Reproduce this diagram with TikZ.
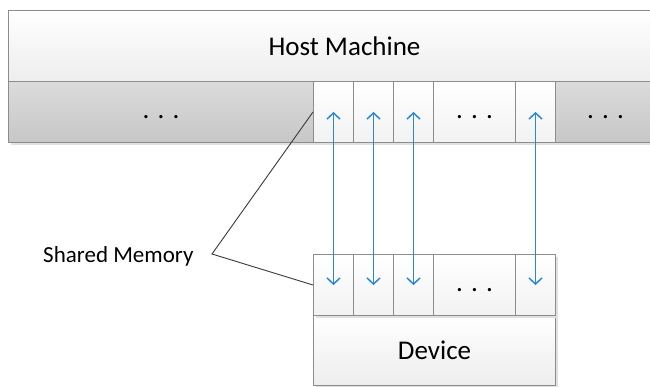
\documentclass[tikz,border=0pt]{standalone}
\usepackage{fontspec}
\setmainfont{Carlito}
\usetikzlibrary{arrows.meta,shadows}
\definecolor{edgegray}{HTML}{8C8C8C}
\definecolor{flowblue}{HTML}{2B86D4}
\definecolor{leadgray}{HTML}{3A3A3A}
\tikzset{
  panel/.style={draw=edgegray, line width=1pt, inner sep=0pt, anchor=north west,
    top color=white, bottom color=black!7, font=\fontsize{27}{30}\selectfont,
    drop shadow={shadow xshift=2pt, shadow yshift=-2pt, fill=black!12, opacity=1}},
  darkcell/.style={panel, top color=black!14, bottom color=black!22, minimum height=61pt},
  lightcell/.style={panel, top color=white, bottom color=black!5, minimum height=61pt, minimum width=40pt},
  link/.style={draw=flowblue, line width=0.9pt,
    {Straight Barb[length=6pt,width=13pt,line width=1.5pt]}-{Straight Barb[length=6pt,width=13pt,line width=1.5pt]}},
  lead/.style={draw=leadgray, line width=0.9pt, line join=miter}
}
\newcommand{\gap}{\vphantom{Hg}. . .}
\begin{document}
\begin{tikzpicture}[x=1pt,y=-1pt]
\clip (0,0) rectangle (650,386);
\fill[white] (0,0) rectangle (650,386);

% host machine with its memory row
\node[panel, minimum width=672pt, minimum height=71pt] (host) at (8,10) {Host Machine};
\node[darkcell, minimum width=305pt] (g1) at (8,81) {\gap};
\node[lightcell] (h1) at (313,81) {};
\node[lightcell] (h2) at (353,81) {};
\node[lightcell] (h3) at (393,81) {};
\node[lightcell, minimum width=82pt] (hd) at (433,81) {\gap};
\node[lightcell] (h4) at (515,81) {};
\node[darkcell, minimum width=100pt] (g2) at (555,81) {\gap};

% device with the mapped cells
\node[panel, minimum width=242pt, minimum height=70pt] (dev) at (313,315) {Device};
\node[lightcell] (d1) at (313,254) {};
\node[lightcell] (d2) at (353,254) {};
\node[lightcell] (d3) at (393,254) {};
\node[lightcell, minimum width=82pt] (dd) at (433,254) {\gap};
\node[lightcell] (d4) at (515,254) {};

% shared memory links
\draw[link] (d1.center) -- (h1.center);
\draw[link] (d2.center) -- (h2.center);
\draw[link] (d3.center) -- (h3.center);
\draw[link] (d4.center) -- (h4.center);

% label with its leader
\node[anchor=base west, inner sep=0pt, font=\fontsize{23}{26}\selectfont] (shm) at (43,262) {Shared Memory};
\coordinate (bend) at (212,254);
\draw[lead] (h1.west) -- (bend) -- (d1.west);
\end{tikzpicture}
\end{document}
